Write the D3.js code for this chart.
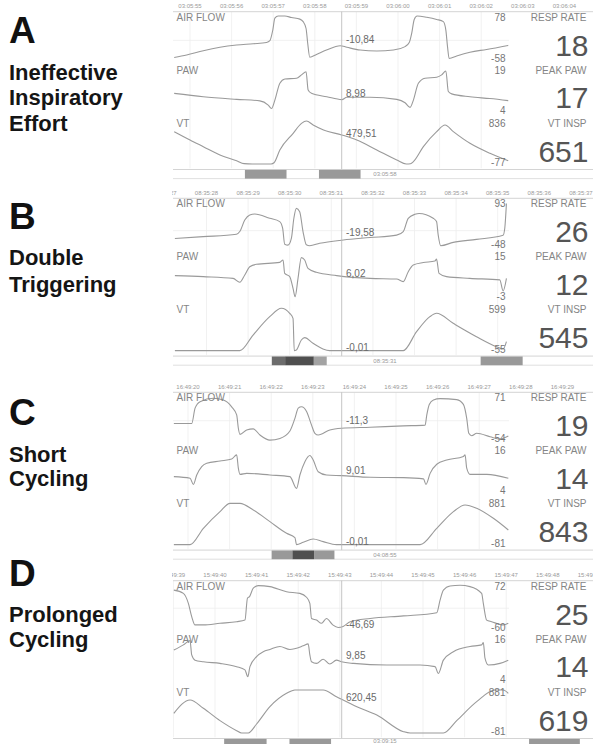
<!DOCTYPE html>
<html><head><meta charset="utf-8">
<script src="https://cdn.jsdelivr.net/npm/d3@7"></script>
<style>body{margin:0;background:#fff}svg{display:block}text{font-family:"Liberation Sans",Arial,sans-serif}</style>
</head><body><svg id="c" width="593" height="744"></svg>
<script>
// ---------------- DATA ----------------
const panelLetters = ["A","B","C","D"];
const panelTitles = [["Ineffective","Inspiratory","Effort"],["Double","Triggering"],["Short","Cycling"],["Prolonged","Cycling"]];
const channelNames = ["AIR FLOW","PAW","VT"];
const readoutNames = ["RESP RATE","PEAK PAW","VT INSP"];

// time tick labels (one per second); first label's second index
const ticksA = ["03:05:55","03:05:56","03:05:57","03:05:58","03:05:59","03:06:00","03:06:01","03:06:02","03:06:03","03:06:04"];
const ticksB = ["08:35:27","08:35:28","08:35:29","08:35:30","08:35:31","08:35:32","08:35:33","08:35:34","08:35:35","08:35:36","08:35:37"];
const ticksC = ["16:49:20","16:49:21","16:49:22","16:49:23","16:49:24","16:49:25","16:49:26","16:49:27","16:49:28","16:49:29"];
const ticksD = ["15:49:39","15:49:40","15:49:41","15:49:42","15:49:43","15:49:44","15:49:45","15:49:46","15:49:47","15:49:48","15:49:49"];
const tickFirstSecond = [0,-1,0,-1];

// channel scale limits [min,max] : flow, paw, vt
const scaleA = [[-58,78],[4,19],[-77,836]];
const scaleB = [[-48,93],[-3,15],[-55,599]];
const scaleC = [[-54,71],[4,16],[-81,881]];
const scaleD = [[-60,72],[4,16],[-81,881]];

const readoutsA = [18,17,651];
const readoutsB = [26,12,545];
const readoutsC = [19,14,843];
const readoutsD = [25,14,619];

const cursorA = ["-10,84","8,98","479,51"];
const cursorB = ["-19,58","6,02","-0,01"];
const cursorC = ["-11,3","9,01","-0,01"];
const cursorD = ["-46,69","9,85","620,45"];

const markerLabels = ["03:05:58","08:35:31","04:08:55","03:09:15"];
// [startSec, endSec, shade]
const markersA = [[1.32,2.32,"mid"],[3.1,4.1,"mid"]];
const markersB = [[1.57,1.89,"dark"],[1.89,2.58,"darkest"],[2.58,2.89,"light"],[6.59,7.6,"mid"]];
const markersC = [[2.01,2.51,"mid"],[2.51,3.03,"darkest"],[3.03,3.52,"mid"]];
const markersD = [[0.22,1.24,"mid"],[1.79,2.79,"mid"],[7.55,8.77,"mid"]];

// waveforms: [seconds, value]
const flowA = [[-0.38,-55],[-0.08,-47],[0.32,-33],[0.72,-22],[1.12,-15],[1.52,-11],[1.84,-7],[1.92,-1],[1.99,33],[2.04,71],[2.12,78],[2.28,78],[2.44,73],[2.64,68],[2.72,60],[2.79,38],[2.83,-10],[2.88,-54],[3.04,-45],[3.28,-31],[3.61,-17],[3.77,-22],[4.09,-31],[4.49,-34],[4.89,-31],[5.17,-20],[5.27,-7],[5.33,23],[5.39,67],[5.46,78],[5.69,74],[5.93,67],[6.09,60],[6.15,33],[6.19,-20],[6.23,-58],[6.41,-50],[6.73,-38],[7.13,-29],[7.65,-16]];
const pawA = [[-0.38,10.4],[0.32,9.1],[1.12,8.1],[1.68,7.5],[1.88,5.9],[1.96,4.6],[2.04,7.8],[2.16,14.3],[2.28,15.9],[2.56,16.2],[2.68,17.5],[2.79,18.7],[2.84,11.7],[2.92,10.4],[3.29,9.1],[3.65,8.0],[3.77,8.9],[4.33,8.9],[4.97,8.1],[5.17,6.8],[5.29,5],[5.37,7.8],[5.49,14.3],[5.65,16.2],[5.93,16.6],[6.05,17.5],[6.15,19],[6.21,11.1],[6.29,10.2],[6.73,9.1],[7.21,8.4],[7.65,7.6]];
const vtA = [[-0.38,610],[0,433],[0.32,291],[0.72,114],[1.12,-6],[1.3,-70],[1.5,-77],[1.95,-77],[2.02,-50],[2.16,220],[2.48,574],[2.68,786],[2.8,836],[2.96,751],[3.21,645],[3.65,539],[4.01,433],[4.49,220],[4.97,8],[5.2,-77],[5.3,-70],[5.37,-27],[5.61,291],[5.93,610],[6.13,751],[6.33,610],[6.73,362],[7.21,150],[7.65,-6]];

const flowB = [[-0.76,-26],[-0.08,-20],[0.72,-12],[0.8,-3],[0.92,35],[1.04,52],[1.16,55],[1.52,41],[1.76,30],[1.83,8],[1.88,-45],[1.96,-48],[2.04,-26],[2.1,41],[2.16,74],[2.24,63],[2.32,-3],[2.4,-47],[2.48,-50],[2.72,-42],[3.29,-31],[3.93,-23],[4.57,-15],[4.73,-3],[4.85,41],[5.01,54],[5.11,57],[5.45,41],[5.53,30],[5.57,-15],[5.63,-50],[5.93,-39],[6.49,-29],[7.13,-15],[7.17,8],[7.21,90]];
const pawB = [[-0.76,6.7],[-0.08,6.2],[0.64,5.4],[0.8,3.6],[0.92,7],[1.04,10.8],[1.2,11.9],[1.76,12.8],[1.84,13.9],[1.88,7.7],[2.0,6.2],[2.08,0.8],[2.13,-3],[2.2,5.4],[2.28,15],[2.36,13.9],[2.44,10],[2.64,8.2],[3.13,6.7],[3.93,5.4],[4.57,5.1],[4.73,3.9],[4.85,8.5],[4.97,11.6],[5.21,12.7],[5.49,13.4],[5.53,14.3],[5.59,7.7],[5.77,6.2],[6.33,5.4],[7.05,4.7],[7.13,-0.4],[7.21,5.4]];
const vtB = [[-0.76,-55],[0.8,-55],[1.12,182],[1.52,461],[1.8,588],[2.0,512],[2.08,436],[2.11,-55],[2.16,-46],[2.28,106],[2.36,142],[2.56,56],[2.8,-31],[2.96,-55],[4.73,-55],[5.05,233],[5.37,461],[5.53,512],[5.93,360],[6.49,157],[6.97,5],[7.13,-31],[7.21,81]];

const flowC = [[-0.34,-8],[0.09,-8],[0.17,37],[0.29,56],[0.61,66],[0.85,61],[1.05,41],[1.17,17],[1.21,-22],[1.25,-40],[1.41,-27],[1.57,-24],[1.73,-42],[1.97,-57],[2.21,-52],[2.45,-30],[2.57,7],[2.65,37],[2.73,41],[2.85,27],[2.97,-13],[3.05,-37],[3.13,-42],[3.41,-27],[3.69,-22],[4.38,-19],[5.18,-15],[5.7,-13],[5.74,17],[5.8,48],[5.9,61],[6.06,65],[6.46,62],[6.62,48],[6.7,7],[6.75,-37],[6.82,-44],[6.94,-37],[7.26,-47],[7.5,-54],[7.7,-45]];
const pawC = [[-0.34,8.3],[0.05,7.8],[0.13,5.9],[0.21,8.8],[0.33,11.4],[0.45,12.4],[0.77,13.1],[1.05,13.7],[1.17,15],[1.21,10.9],[1.25,9],[1.41,9.3],[1.97,8.8],[2.45,8.3],[2.61,4.7],[2.69,8.8],[2.81,12.9],[2.93,14.8],[3.01,13.4],[3.13,9.8],[3.33,8.8],[3.69,8.6],[4.38,8.1],[5.18,8],[5.66,7.6],[5.72,5.9],[5.82,9.3],[5.98,12.1],[6.22,13.4],[6.62,14.5],[6.66,15],[6.7,10.9],[6.78,9],[7.18,9],[7.7,7.8]];
const vtC = [[-0.34,-81],[0.05,-81],[0.37,283],[0.77,656],[1.01,842],[1.25,842],[1.57,693],[1.97,432],[2.37,171],[2.57,74],[2.61,-81],[2.77,-30],[3.01,44],[3.25,-15],[3.57,-81],[5.58,-81],[5.98,283],[6.38,656],[6.66,805],[6.94,730],[7.34,507],[7.7,246]];

const flowD = [[-0.99,56],[-0.76,46],[-0.64,15],[-0.56,-26],[-0.48,-52],[-0.28,-52],[0.12,-47],[0.52,-42],[0.72,-37],[0.78,31],[0.83,36],[0.92,62],[1.04,70],[1.32,67],[1.72,51],[2.04,46],[2.2,34],[2.28,15],[2.32,-32],[2.44,-37],[2.56,-47],[2.68,-32],[2.83,-52],[2.96,-60],[3.08,-57],[3.25,-42],[3.73,-32],[4.53,-24],[5.33,-14],[5.41,25],[5.49,56],[5.65,69],[5.89,71],[6.13,67],[6.41,46],[6.45,15],[6.53,-37],[6.65,-42],[6.93,-52],[7.05,-47]];
const pawD = [[-0.99,12.9],[-0.76,14.5],[-0.6,15.8],[-0.56,11.4],[-0.48,9.8],[-0.28,9.3],[0.12,8.8],[0.52,7.8],[0.72,6.8],[0.79,4.7],[0.84,7.8],[1.0,10.9],[1.16,12.4],[1.32,13.1],[1.56,14],[1.8,13.1],[2.12,14.2],[2.24,14.8],[2.28,11.4],[2.32,9.3],[2.44,8.8],[2.6,10.1],[2.76,8.6],[2.92,9.8],[3.04,9.3],[3.33,8.8],[4.13,8.3],[4.93,8.3],[5.29,7.8],[5.37,5.7],[5.49,9.8],[5.73,12.4],[6.13,14],[6.41,14.5],[6.45,15.2],[6.49,10.4],[6.57,8.3],[6.85,8.8],[7.05,9.8]];
const vtD = [[-0.99,359],[-0.6,657],[-0.28,471],[0.12,195],[0.52,-29],[0.64,-81],[0.8,-81],[1.0,120],[1.32,508],[1.72,806],[1.92,881],[2.6,881],[2.92,732],[3.41,508],[3.89,322],[4.53,-51],[4.69,-81],[5.49,-81],[5.81,195],[6.29,620],[6.73,881],[6.93,881],[7.05,806]];

// ---------------- LAYOUT ----------------
const W = 593;
const panelTop = [0,186.6,380.6,569];
const tickOrigin = [190,206.5,188,215];
const pxPerSec = 41.6;
const letterBaseline = [43,229,425,586];
const titleBaselines = [[80,105,131],[265,291.5],[461.5,485.5],[621.5,646.5]];
const wave = {x0:173, x1:509, y0:11.7, y1:168.5};
const chanRange = [[58.5,16],[110,71],[164,121]];
const chanLabelY = [17,70,123];
const chanBottomLabelY = [58,110,162.5];
const bigBaseline = [55.5,108,161.5];
const cursorX = 341.7;
const stripY0 = 169.5, stripY1 = 178.6;
const shadeColor = {light:"#a3a3a3", mid:"#999999", dark:"#6c6c6c", darkest:"#4f4f4f"};

const panels = [
  {ticks:ticksA, scales:scaleA, read:readoutsA, cur:cursorA, marks:markersA, series:[flowA,pawA,vtA]},
  {ticks:ticksB, scales:scaleB, read:readoutsB, cur:cursorB, marks:markersB, series:[flowB,pawB,vtB]},
  {ticks:ticksC, scales:scaleC, read:readoutsC, cur:cursorC, marks:markersC, series:[flowC,pawC,vtC]},
  {ticks:ticksD, scales:scaleD, read:readoutsD, cur:cursorD, marks:markersD, series:[flowD,pawD,vtD]}
];

const svg = d3.select("#c");
const defs = svg.append("defs");

panels.forEach((p, i) => {
  const top = panelTop[i];
  const g = svg.append("g").attr("transform", `translate(0,${top})`);
  const x = d3.scaleLinear().domain([0, 8]).range([tickOrigin[i], tickOrigin[i] + 8*pxPerSec]);

  defs.append("clipPath").attr("id","wclip"+i).append("rect")
    .attr("x", wave.x0).attr("y", wave.y0).attr("width", wave.x1-wave.x0).attr("height", wave.y1-wave.y0);
  defs.append("clipPath").attr("id","tclip"+i).append("rect")
    .attr("x", 172).attr("y", -2).attr("width", W-172).attr("height", 14);

  // left labels
  svg.append("text").attr("x", 9).attr("y", letterBaseline[i]).text(panelLetters[i])
    .attr("font-size", 37).attr("font-weight", "bold").attr("fill", "#111");
  panelTitles[i].forEach((t, k) => {
    svg.append("text").attr("x", 9).attr("y", titleBaselines[i][k]).text(t)
      .attr("font-size", 22).attr("font-weight", "bold").attr("fill", "#151515");
  });

  // time ticks
  const tickData = p.ticks.map((lab, k) => ({lab, s: tickFirstSecond[i] + k}));
  g.append("g").attr("clip-path", `url(#tclip${i})`).selectAll("text").data(tickData).join("text")
    .attr("x", d => x(d.s)).attr("y", 8).attr("text-anchor","middle")
    .attr("font-size", 6).attr("fill", "#9a9a9a").text(d => d.lab);

  // grid
  const gridG = g.append("g").attr("clip-path", `url(#wclip${i})`);
  gridG.selectAll("line.v").data(tickData).join("line")
    .attr("x1", d => x(d.s)).attr("x2", d => x(d.s)).attr("y1", wave.y0).attr("y2", wave.y1)
    .attr("stroke", "#ededed").attr("stroke-width", 0.8);

  // top border
  g.append("line").attr("x1", wave.x0).attr("x2", W).attr("y1", wave.y0).attr("y2", wave.y0)
    .attr("stroke", "#cfcfcf").attr("stroke-width", 0.9);

  // channels
  p.series.forEach((data, c) => {
    const y = d3.scaleLinear().domain(p.scales[c]).range(chanRange[c]);
    if (c === 0) {
      gridG.append("line").attr("x1", wave.x0).attr("x2", wave.x1).attr("y1", y(0)).attr("y2", y(0))
        .attr("stroke", "#ededed").attr("stroke-width", 0.8);
    }
    const line = d3.line().x(d => x(d[0])).y(d => y(d[1])).curve(d3.curveMonotoneX);
    g.append("path").attr("clip-path", `url(#wclip${i})`).datum(data).attr("d", line)
      .attr("fill", "none").attr("stroke", "#9a9a9a").attr("stroke-width", 1.1).attr("stroke-linejoin","round");

    // channel name
    g.append("text").attr("x", 176.5).attr("y", chanLabelY[c]).attr("dy", "0.35em")
      .attr("font-size", 10).attr("fill", "#858585").text(channelNames[c]);
    // range labels
    g.append("text").attr("x", 505.5).attr("y", chanLabelY[c]).attr("dy", "0.35em").attr("text-anchor","end")
      .attr("font-size", 10).attr("fill", "#777").text(p.scales[c][1]);
    g.append("text").attr("x", 505.5).attr("y", chanBottomLabelY[c]).attr("dy", "0.35em").attr("text-anchor","end")
      .attr("font-size", 10).attr("fill", "#777").text(p.scales[c][0]);
    // cursor value
    const cv = parseFloat(p.cur[c].replace(",", "."));
    const yv = y(cv);
    const ty = yv > chanRange[c][0] - 5 ? chanRange[c][0] - 3.5 : yv - 4;
    g.append("text").attr("x", 346).attr("y", ty).attr("dy", "0.35em")
      .attr("font-size", 10).attr("fill", "#6a6a6a").text(p.cur[c]);
    // readouts
    g.append("text").attr("x", 586.5).attr("y", chanLabelY[c]).attr("dy", "0.35em").attr("text-anchor","end")
      .attr("font-size", 10).attr("fill", "#858585").text(readoutNames[c]);
    g.append("text").attr("x", 588.5).attr("y", bigBaseline[c]).attr("text-anchor","end")
      .attr("font-size", 30).attr("fill", "#555").text(p.read[c]);
  });

  // cursor line
  g.append("line").attr("x1", cursorX).attr("x2", cursorX).attr("y1", wave.y0).attr("y2", wave.y1 + 1)
    .attr("stroke", "#b5b5b5").attr("stroke-width", 0.8);

  // event strip
  g.append("line").attr("x1", wave.x0).attr("x2", W).attr("y1", stripY0).attr("y2", stripY0)
    .attr("stroke", "#cfcfcf").attr("stroke-width", 0.9);
  g.append("line").attr("x1", wave.x0).attr("x2", W).attr("y1", stripY1).attr("y2", stripY1)
    .attr("stroke", "#dcdcdc").attr("stroke-width", 0.9);
  g.selectAll("rect.m").data(p.marks).join("rect")
    .attr("x", d => x(d[0])).attr("width", d => x(d[1]) - x(d[0]))
    .attr("y", stripY0 + 0.4).attr("height", stripY1 - stripY0 - 0.4)
    .attr("fill", d => shadeColor[d[2]]);
  g.append("text").attr("x", 385).attr("y", Math.min((stripY0 + stripY1)/2, 744 - top - 3)).attr("dy","0.35em").attr("text-anchor","middle")
    .attr("font-size", 6).attr("fill", "#9a9a9a").text(markerLabels[i]);
});
</script></body></html>
